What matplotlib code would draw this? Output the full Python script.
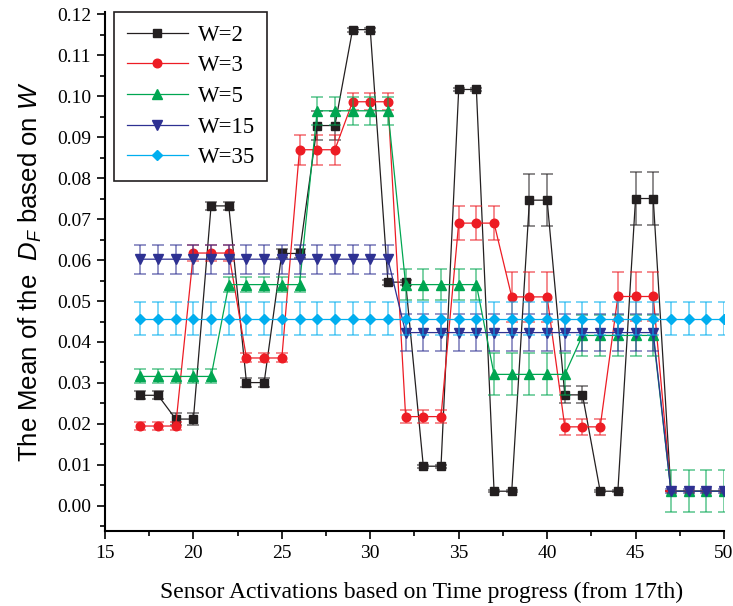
import numpy as np
import matplotlib
matplotlib.use("Agg")
import matplotlib.pyplot as plt
from matplotlib.colors import to_rgba
from matplotlib.ticker import MultipleLocator, FormatStrFormatter

plt.rcParams['mathtext.fontset'] = 'custom'
plt.rcParams['mathtext.it'] = 'Liberation Sans:italic'
plt.rcParams['mathtext.rm'] = 'Liberation Sans'

x = np.arange(17, 51)

w2 = [0.0270, 0.0270, 0.0212, 0.0212, 0.0732, 0.0732, 0.0301, 0.0301, 0.0616, 0.0616,
      0.0928, 0.0928, 0.1162, 0.1162, 0.0546, 0.0546, 0.0097, 0.0097, 0.1016, 0.1016,
      0.0036, 0.0036, 0.0746, 0.0746, 0.0271, 0.0271, 0.0036, 0.0036, 0.0750, 0.0750,
      0.0036, 0.0036, 0.0036, 0.0036]
w2_err = [0.0010, 0.0010, 0.0014, 0.0014, 0.0009, 0.0009, 0.0012, 0.0012, 0.0010, 0.0010,
          0.0036, 0.0036, 0.0005, 0.0005, 0.0006, 0.0006, 0.0004, 0.0004, 0.0004, 0.0004,
          0.0003, 0.0003, 0.0064, 0.0064, 0.0021, 0.0021, 0.0003, 0.0003, 0.0064, 0.0064,
          0.0, 0.0, 0.0, 0.0]

w3 = [0.0195, 0.0195, 0.0195, 0.0617, 0.0617, 0.0617, 0.0361, 0.0361, 0.0361, 0.0869,
      0.0869, 0.0869, 0.0986, 0.0986, 0.0986, 0.0218, 0.0218, 0.0218, 0.0690, 0.0690,
      0.0690, 0.0510, 0.0510, 0.0510, 0.0193, 0.0193, 0.0193, 0.0511, 0.0511, 0.0511,
      0.0036, 0.0036, 0.0036, 0.0036]
w3_err = [0.0010, 0.0010, 0.0010, 0.0020, 0.0020, 0.0020, 0.0011, 0.0011, 0.0011, 0.0037,
          0.0037, 0.0037, 0.0021, 0.0021, 0.0021, 0.0015, 0.0015, 0.0015, 0.0042, 0.0042,
          0.0042, 0.0060, 0.0060, 0.0060, 0.0020, 0.0020, 0.0020, 0.0060, 0.0060, 0.0060,
          0.0, 0.0, 0.0, 0.0]

w5 = [0.0316, 0.0316, 0.0316, 0.0316, 0.0316, 0.0540, 0.0540, 0.0540, 0.0540, 0.0540,
      0.0964, 0.0964, 0.0964, 0.0964, 0.0964, 0.0540, 0.0540, 0.0540, 0.0540, 0.0540,
      0.0321, 0.0321, 0.0321, 0.0321, 0.0321, 0.0416, 0.0416, 0.0416, 0.0416, 0.0416,
      0.0036, 0.0036, 0.0036, 0.0036]
w5_err = [0.0017, 0.0017, 0.0017, 0.0017, 0.0017, 0.0019, 0.0019, 0.0019, 0.0019, 0.0019,
          0.0034, 0.0034, 0.0034, 0.0034, 0.0034, 0.0037, 0.0037, 0.0037, 0.0037, 0.0037,
          0.0051, 0.0051, 0.0051, 0.0051, 0.0051, 0.0050, 0.0050, 0.0050, 0.0050, 0.0050,
          0.0051, 0.0051, 0.0051, 0.0051]

w15 = [0.0602] * 15 + [0.0423] * 15 + [0.0036] * 4
w15_err = [0.0035] * 15 + [0.0046] * 15 + [0.0005] * 4

w35 = [0.0457] * 34
w35_err = [0.0041] * 34

series = [
    ("W=2", w2, w2_err, '#231f20', 's', 5.8),
    ("W=3", w3, w3_err, '#ed1c24', 'o', 6.2),
    ("W=5", w5, w5_err, '#00a651', '^', 6.5),
    ("W=15", w15, w15_err, '#2e3192', 'v', 6.5),
    ("W=35", w35, w35_err, '#00aeef', 'D', 5.5),
]

fig = plt.figure(figsize=(7.33, 6.06), dpi=100)
ax = fig.add_axes([0.1432, 0.1238, 0.8445, 0.8564])

for name, y, err, col, mk, ms in series:
    ax.errorbar(x, y, yerr=err, fmt='none', ecolor=to_rgba(col, 0.6),
                elinewidth=1.2, capsize=4.5, capthick=1.2)
    ax.plot(x, y, color=col, lw=0.9, marker=mk, ms=ms, label=name)

ax.set_xlim(15, 50)
ax.set_ylim(-0.0061, 0.1205)
ax.xaxis.set_major_locator(MultipleLocator(5))
ax.xaxis.set_minor_locator(MultipleLocator(2.5))
ax.yaxis.set_major_locator(MultipleLocator(0.01))
ax.yaxis.set_minor_locator(MultipleLocator(0.005))
ax.yaxis.set_major_formatter(FormatStrFormatter('%.2f'))
ax.tick_params(which='major', direction='out', length=6, width=1.2,
               labelsize=14, pad=4)
ax.tick_params(which='minor', direction='out', length=3.5, width=1.2)
for lab in ax.get_xticklabels() + ax.get_yticklabels():
    lab.set_fontfamily('Liberation Serif')

ax.spines['top'].set_visible(False)
ax.spines['right'].set_visible(False)
ax.spines['left'].set_linewidth(1.5)
ax.spines['bottom'].set_linewidth(1.5)

ax.set_xlabel("Sensor Activations based on Time progress (from 17th)",
              fontfamily='Liberation Serif', fontsize=17)
ax.xaxis.set_label_coords(0.512, -0.097)
ax.set_ylabel(r"The Mean of the  $D_F$ based on $W$",
              fontfamily='Liberation Sans', fontsize=18.5, labelpad=9)

leg = ax.legend(loc='upper left', bbox_to_anchor=(0.0145, 1.0), borderaxespad=0,
                prop={'family': 'Liberation Serif', 'size': 16.5},
                fancybox=False, framealpha=1, edgecolor='#231f20',
                handlelength=2.7, labelspacing=0.42, borderpad=0.55,
                handletextpad=0.4)
leg.get_frame().set_linewidth(1.2)

fig.savefig("out.png", dpi=100)
